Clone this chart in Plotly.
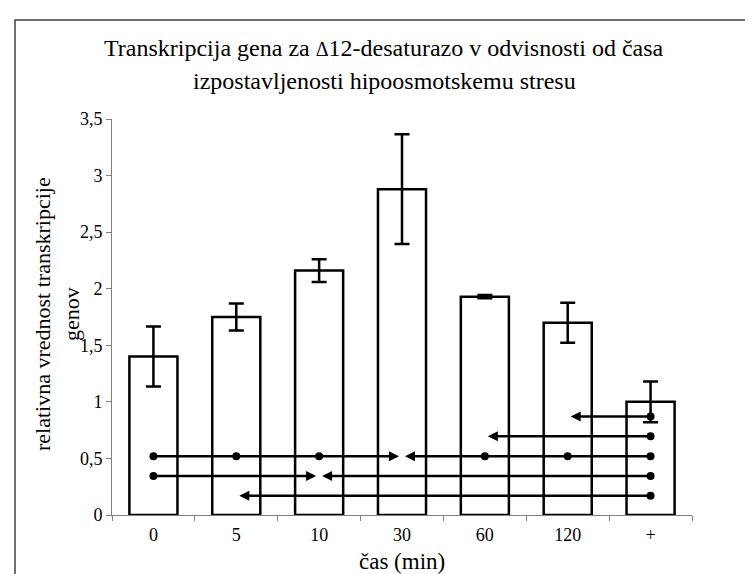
import plotly.graph_objects as go

# ---- data ----
categories = ["0", "5", "10", "30", "60", "120", "+"]
values = [1.40, 1.75, 2.16, 2.88, 1.93, 1.70, 1.00]
errors = [0.265, 0.12, 0.10, 0.485, 0.015, 0.177, 0.18]
y_ticks = [0, 0.5, 1, 1.5, 2, 2.5, 3, 3.5]
y_tick_labels = ["0", "0,5", "1", "1,5", "2", "2,5", "3", "3,5"]

# significance arrows: level, tail category, head category, dots along the line
arrow_levels = [0.87, 0.695, 0.52, 0.52, 0.345, 0.345, 0.17]
arrow_tails = ["+", "+", "0", "+", "0", "+", "+"]
arrow_heads = ["120", "60", "30", "30", "10", "10", "5"]
arrow_dots = [["+"], ["+"], ["0", "5", "10"], ["60", "120", "+"], ["0"], ["+"], ["+"]]

title_lines = ["Transkripcija gena za <span style='font-size:20px'>Δ</span>12-desaturazo v odvisnosti od časa",
               "izpostavljenosti hipoosmotskemu stresu"]
y_title_lines = ["relativna vrednost transkripcije", "genov"]
x_title = "čas (min)"

# ---- layout geometry (pixels) ----
W, H = 753, 574
L, R, T, B = 104, 69, 111, 67
PW, PH = W - L - R, H - T - B
FONT = "Liberation Serif"


def px(x):
    return (x - L) / PW


def py(y):
    return (H - B - y) / PH


fig = go.Figure()
fig.add_trace(go.Bar(
    x=categories, y=values, width=0.58,
    marker=dict(color="white", line=dict(color="black", width=2.5)),
    error_y=dict(type="data", array=errors, visible=True,
                 color="black", thickness=2.5, width=7.5),
    showlegend=False, hoverinfo="skip",
))

dot_x, dot_y = [], []
for lvl, dots in zip(arrow_levels, arrow_dots):
    for d in dots:
        dot_x.append(d)
        dot_y.append(lvl)
fig.add_trace(go.Scatter(
    x=dot_x, y=dot_y, mode="markers",
    marker=dict(color="black", size=8),
    showlegend=False, hoverinfo="skip", cliponaxis=False,
))

annotations = []
for lvl, tail, head in zip(arrow_levels, arrow_tails, arrow_heads):
    annotations.append(dict(
        x=categories.index(head), y=lvl, xref="x", yref="y",
        ax=categories.index(tail), ay=lvl, axref="x", ayref="y",
        text="", showarrow=True, arrowhead=2, arrowsize=0.8,
        arrowwidth=2.5, arrowcolor="black", standoff=3,
    ))

for i, line in enumerate(title_lines):
    annotations.append(dict(
        x=px(376), y=py([40, 73][i]), xref="paper", yref="paper",
        text=line, showarrow=False, xanchor="center", yanchor="middle",
        font=dict(family=FONT, size=24, color="black"),
    ))

for i, line in enumerate(y_title_lines):
    annotations.append(dict(
        x=px([34, 63][i]), y=py(306), xref="paper", yref="paper",
        text=line, showarrow=False, textangle=-90,
        xanchor="center", yanchor="middle",
        font=dict(family=FONT, size=22, color="black"),
    ))

annotations.append(dict(
    x=px(394), y=py(553), xref="paper", yref="paper",
    text=x_title, showarrow=False, xanchor="center", yanchor="middle",
    font=dict(family=FONT, size=23, color="black"),
))

fig.update_layout(
    width=W, height=H,
    margin=dict(l=L, r=R, t=T, b=B),
    paper_bgcolor="white", plot_bgcolor="white",
    font=dict(family=FONT, size=18, color="black"),
    separators=", ",
    annotations=annotations,
    shapes=[dict(type="rect", xref="paper", yref="paper",
                 x0=px(7), x1=px(745), y0=py(580), y1=py(12),
                 line=dict(color="#404040", width=1.5),
                 fillcolor="rgba(0,0,0,0)", layer="below")],
    xaxis=dict(
        type="category", categoryorder="array", categoryarray=categories,
        range=[-0.5, len(categories) - 0.5],
        showline=True, linecolor="#808080", linewidth=1,
        ticks="outside", tickson="boundaries", ticklen=5,
        tickcolor="#808080", showgrid=False, zeroline=False,
        ticklabelstandoff=3,
        tickfont=dict(family=FONT, size=18, color="black"),
    ),
    yaxis=dict(
        range=[0, 3.5], tickvals=y_ticks, ticktext=y_tick_labels,
        showline=True, linecolor="#808080", linewidth=1,
        ticks="outside", ticklen=5, tickcolor="#808080",
        showgrid=False, zeroline=False,
        tickfont=dict(family=FONT, size=18, color="black"),
    ),
)

fig.write_html("out.html")
